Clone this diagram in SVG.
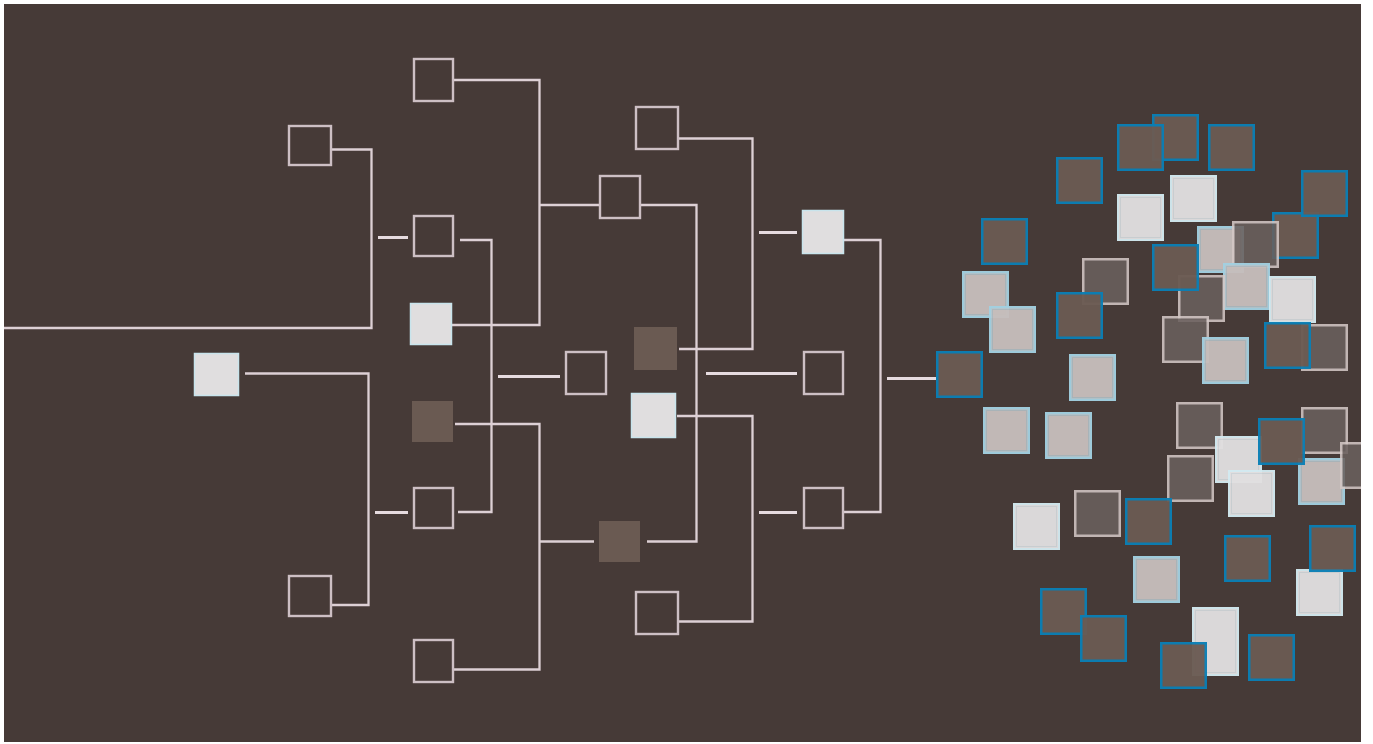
<svg xmlns="http://www.w3.org/2000/svg" xmlns:xlink="http://www.w3.org/1999/xlink" width="1373" height="744" viewBox="0 0 1373 744">
<style>
.ln{fill:none;stroke:#ddd0d5;stroke-width:2.3;stroke-linejoin:miter}
.sh{fill:none;stroke:#e6dbdf;stroke-width:3}
.out{fill:none;stroke:#cdbfc4;stroke-width:2.4}
.lt{fill:#e0dedf;stroke:#c8e4ec;stroke-width:1.5}
.dk{fill:#6a5a52}
.oB{opacity:0.96}
.oG{opacity:0.87}
.oL{opacity:0.96}
.oW{opacity:0.96}
</style>
<defs>
<clipPath id="frame"><rect x="4" y="4" width="1357" height="738"/></clipPath>
<g id="sqB"><rect x="1.25" y="1.25" width="44.5" height="44.5" fill="#6b5b53" stroke="#0a7fb5" stroke-width="2.5"/></g>
<g id="sqL"><rect x="1.25" y="1.25" width="44.5" height="44.5" fill="#c6bebc" stroke="#a2d0e1" stroke-width="2.5"/><rect x="3.5" y="3.5" width="40" height="40" fill="none" stroke="#8fb2c0" stroke-width="1" opacity="0.45"/></g>
<g id="sqW"><rect x="1" y="1" width="45" height="45" fill="#e1dfe0" stroke="#d3eaf1" stroke-width="2"/><rect x="3.5" y="3.5" width="40" height="40" fill="none" stroke="#b9c6cb" stroke-width="1" opacity="0.45"/></g>
<g id="sqG"><rect x="1.25" y="1.25" width="44.5" height="44.5" fill="#6a605e" stroke="#d4c8c6" stroke-width="2.5"/></g>
</defs>
<rect x="0" y="0" width="1373" height="744" fill="#ffffff"/>
<rect x="4" y="4" width="1357" height="738" fill="#463a37"/>
<g clip-path="url(#frame)">
<g id="connectors">
<path class="ln" d="M332,149.5 H371.5 V328 H4"/>
<path class="ln" d="M245,373.5 H368.5 V605 H332"/>
<path class="sh" d="M378,237.5 H408"/>
<path class="sh" d="M375,512.5 H408"/>
<path class="ln" d="M454,80 H539.5 V325 H452"/>
<path class="ln" d="M539.5,205 H599"/>
<path class="ln" d="M460,240 H491.5 V512 H458"/>
<path class="ln" d="M455,424 H539.5 V669.5 H454"/>
<path class="ln" d="M539.5,541.5 H594"/>
<path class="sh" d="M498,376.5 H560"/>
<path class="ln" d="M678,138.5 H752.5 V349 H679"/>
<path class="ln" d="M641,205 H696.5 V541.5 H647"/>
<path class="ln" d="M677,416 H752.5 V621.5 H678"/>
<path class="sh" d="M759,232.5 H797"/>
<path class="sh" d="M706,373.5 H797"/>
<path class="sh" d="M759,512.5 H797"/>
<path class="ln" d="M844,240 H880.5 V512 H844"/>
<path class="sh" d="M887,378.5 H936"/>
</g>
<g id="n1"><rect class="out" x="414" y="59" width="39" height="42"/></g>
<g id="n2"><rect class="out" x="289" y="126" width="42" height="39"/></g>
<g id="n3"><rect class="out" x="414" y="216" width="39" height="40"/></g>
<g id="n4"><rect class="lt" x="410.5" y="303.5" width="41" height="41"/></g>
<g id="n5"><rect class="lt" x="194.5" y="353.5" width="44" height="42"/></g>
<g id="n6"><rect class="dk" x="412" y="401" width="41" height="41"/></g>
<g id="n7"><rect class="out" x="414" y="488" width="39" height="40"/></g>
<g id="n8"><rect class="out" x="289" y="576" width="42" height="40"/></g>
<g id="n9"><rect class="out" x="414" y="640" width="39" height="42"/></g>
<g id="n10"><rect class="out" x="600" y="176" width="40" height="42"/></g>
<g id="n11"><rect class="out" x="636" y="107" width="42" height="42"/></g>
<g id="n12"><rect class="dk" x="634" y="327" width="43" height="43"/></g>
<g id="n13"><rect class="out" x="566" y="352" width="40" height="42"/></g>
<g id="n14"><rect class="lt" x="631.5" y="393.5" width="44" height="44"/></g>
<g id="n15"><rect class="dk" x="599" y="521" width="41" height="41"/></g>
<g id="n16"><rect class="out" x="636" y="592" width="42" height="42"/></g>
<g id="n17"><rect class="lt" x="802.5" y="210.5" width="41" height="43"/></g>
<g id="n18"><rect class="out" x="804" y="352" width="39" height="42"/></g>
<g id="n19"><rect class="out" x="804" y="488" width="39" height="40"/></g>
<g id="cluster">
<g id="c1"><use class="oB" href="#sqB" x="1152" y="114"/></g>
<g id="c2"><use class="oB" href="#sqB" x="1117" y="124"/></g>
<g id="c3"><use class="oB" href="#sqB" x="1208" y="124"/></g>
<g id="c4"><use class="oB" href="#sqB" x="1056" y="157"/></g>
<g id="c5"><use class="oW" href="#sqW" x="1117" y="194"/></g>
<g id="c6"><use class="oW" href="#sqW" x="1170" y="175"/></g>
<g id="c8"><use class="oB" href="#sqB" x="1272" y="212"/></g>
<g id="c7"><use class="oB" href="#sqB" x="1301" y="170"/></g>
<g id="c9"><use class="oB" href="#sqB" x="981" y="218"/></g>
<g id="c10"><use class="oL" href="#sqL" x="1197" y="226"/></g>
<g id="c11"><use class="oG" href="#sqG" x="1232" y="221"/></g>
<g id="c12"><use class="oL" href="#sqL" x="1223" y="263"/></g>
<g id="c18"><use class="oG" href="#sqG" x="1178" y="275"/></g>
<g id="c13"><use class="oB" href="#sqB" x="1152" y="244"/></g>
<g id="c14"><use class="oG" href="#sqG" x="1082" y="258"/></g>
<g id="c17"><use class="oB" href="#sqB" x="1056" y="292"/></g>
<g id="c15"><use class="oL" href="#sqL" x="962" y="271"/></g>
<g id="c16"><use class="oL" href="#sqL" x="989" y="306"/></g>
<g id="c19"><use class="oW" href="#sqW" x="1269" y="276"/></g>
<g id="c20"><use class="oG" href="#sqG" x="1162" y="316"/></g>
<g id="c21"><use class="oL" href="#sqL" x="1202" y="337"/></g>
<g id="c23"><use class="oG" href="#sqG" x="1301" y="324"/></g>
<g id="c22"><use class="oB" href="#sqB" x="1264" y="322"/></g>
<g id="c24"><use class="oB" href="#sqB" x="936" y="351"/></g>
<g id="c25"><use class="oL" href="#sqL" x="1069" y="354"/></g>
<g id="c26"><use class="oL" href="#sqL" x="983" y="407"/></g>
<g id="c27"><use class="oL" href="#sqL" x="1045" y="412"/></g>
<g id="c28"><use class="oG" href="#sqG" x="1176" y="402"/></g>
<g id="c29"><use class="oW" href="#sqW" x="1215" y="436"/></g>
<g id="c31"><use class="oG" href="#sqG" x="1301" y="407"/></g>
<g id="c35"><use class="oL" href="#sqL" x="1298" y="458"/></g>
<g id="c32"><use class="oG" href="#sqG" x="1340" y="442"/></g>
<g id="c30"><use class="oB" href="#sqB" x="1258" y="418"/></g>
<g id="c33"><use class="oG" href="#sqG" x="1167" y="455"/></g>
<g id="c34"><use class="oW" href="#sqW" x="1228" y="470"/></g>
<g id="c36"><use class="oW" href="#sqW" x="1013" y="503"/></g>
<g id="c37"><use class="oG" href="#sqG" x="1074" y="490"/></g>
<g id="c38"><use class="oB" href="#sqB" x="1125" y="498"/></g>
<g id="c39"><use class="oL" href="#sqL" x="1133" y="556"/></g>
<g id="c40"><use class="oB" href="#sqB" x="1040" y="588"/></g>
<g id="c41"><use class="oB" href="#sqB" x="1080" y="615"/></g>
<g id="c42"><use class="oB" href="#sqB" x="1224" y="535"/></g>
<g id="c44"><use class="oW" href="#sqW" x="1296" y="569"/></g>
<g id="c43"><use class="oB" href="#sqB" x="1309" y="525"/></g>
<g id="c45" class="oW"><rect x="1193" y="608" width="45" height="67" fill="#e1dfe0" stroke="#d3eaf1" stroke-width="2"/><rect x="1195.5" y="610.5" width="40" height="62" fill="none" stroke="#b9c6cb" stroke-width="1" opacity="0.45"/></g>
<g id="c46"><use class="oB" href="#sqB" x="1160" y="642"/></g>
<g id="c47"><use class="oB" href="#sqB" x="1248" y="634"/></g>
</g>
</g>
</svg>
